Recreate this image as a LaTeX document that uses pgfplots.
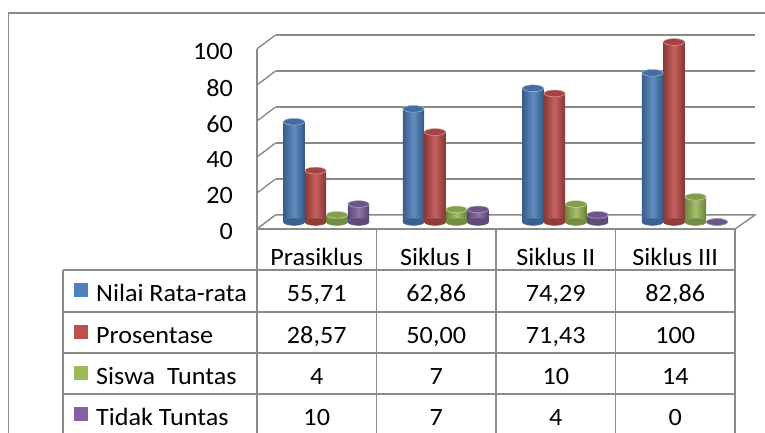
\documentclass[border=0pt]{standalone}
\usepackage{fontspec}
\setmainfont{Carlito}[FakeStretch=1.05]
\usepackage{pgfplots}
\pgfplotsset{compat=1.18}

\definecolor{cblue}{HTML}{4F81BD}
\definecolor{cred}{HTML}{C0504D}
\definecolor{cgreen}{HTML}{9BBB59}
\definecolor{cpurple}{HTML}{8064A2}
\definecolor{gridgray}{HTML}{8A8A8A}

\pgfdeclareplotmark{cyltop}{%
  \pgfpathellipse{\pgfpointorigin}{\pgfqpoint{10.6bp}{0pt}}{\pgfqpoint{0pt}{3.4bp}}%
  \pgfusepathqfillstroke}

% one cylinder: #1 colour, #2 x position, #3 value
\newcommand{\cyl}[3]{%
  \addplot[only marks, mark=cyltop, mark options={fill=#1!75!black, draw=#1!75!black, line width=0.4bp}]
    coordinates {(#2,0)};
  \addplot[ybar, bar width=21.2bp, bar shift=0pt, draw=none,
    left color=#1!72!black, right color=#1!68!black, middle color=#1!90!white]
    coordinates {(#2,#3)};
  \addplot[only marks, mark=cyltop, mark options={fill=#1!85!black, draw=#1!55!white, line width=0.5bp}]
    coordinates {(#2,#3)};
}

\begin{document}
\begin{tikzpicture}[x=1bp, y=1bp]
\useasboundingbox (0,0) rectangle (765,432);
\fontsize{25}{30}\selectfont
% outer frame
\draw[gridgray, line width=1.6bp] (8.5,-10) rectangle (780,419);

% back wall gridlines
\begin{axis}[at={(275.5bp,217bp)}, anchor=south west, scale only axis,
  width=479.5bp, height=180bp, xmin=0, xmax=4, ymin=0, ymax=100,
  axis line style={draw=none}, tick style={draw=none},
  xtick=\empty, ytick={0,20,...,100}, yticklabels={},
  ymajorgrids, major grid style={gridgray, line width=1.4bp}]
\end{axis}

% side wall diagonals and floor
\foreach \v in {0,20,...,100} {
  \draw[gridgray, line width=1.4bp] (257,{203+1.8*\v}) -- (275.5,{217+1.8*\v});
}
\fill[white] (257,203) -- (735,203) -- (755,217) -- (275.5,217) -- cycle;
\draw[gridgray, line width=1.4bp] (257,203) -- (275.5,217) -- (755,217) -- (735,203);

% cylinders (categories at 0.5, 1.5, 2.5, 3.5; series offsets -0.27, -0.09, 0.09, 0.27)
\begin{axis}[at={(266.5bp,210bp)}, anchor=south west, scale only axis,
  width=478bp, height=180bp, xmin=0, xmax=4, ymin=0, ymax=100,
  hide axis, clip=false]
% Prasiklus
\cyl{cblue}{0.23}{55.71}
\cyl{cred}{0.41}{28.57}
\cyl{cgreen}{0.59}{4}
\cyl{cpurple}{0.77}{10}
% Siklus I
\cyl{cblue}{1.23}{62.86}
\cyl{cred}{1.41}{50.00}
\cyl{cgreen}{1.59}{7}
\cyl{cpurple}{1.77}{7}
% Siklus II
\cyl{cblue}{2.23}{74.29}
\cyl{cred}{2.41}{71.43}
\cyl{cgreen}{2.59}{10}
\cyl{cpurple}{2.77}{4}
% Siklus III
\cyl{cblue}{3.23}{82.86}
\cyl{cred}{3.41}{100}
\cyl{cgreen}{3.59}{14}
\cyl{cpurple}{3.77}{0}
\end{axis}

% front axis with tick labels
\begin{axis}[at={(257bp,203bp)}, anchor=south west, scale only axis,
  width=478bp, height=180bp, xmin=0, xmax=4, ymin=0, ymax=100,
  separate axis lines, axis x line=none, axis y line*=left,
  y axis line style={gridgray, line width=1.4bp, -},
  ytick={0,20,...,100}, major tick length=0pt,
  /pgf/number format/assume math mode=true,
  yticklabel style={font=\fontsize{25}{30}\selectfont, anchor=east, inner sep=0pt, xshift=-24bp, yshift=-3bp}]
\end{axis}

% data table
\begin{scope}[gridgray, line width=1.4bp]
  \draw (257,203) -- (735,203);
  \foreach \yy in {162,120,79,38} { \draw (63,\yy) -- (735,\yy); }
  \draw (63,162) -- (63,-10);
  \foreach \xx in {257,376.5,496,615.5,735} { \draw (\xx,203) -- (\xx,-10); }
\end{scope}

\foreach \cx/\lab in {316.75/Prasiklus,436.25/Siklus I,555.75/Siklus II,675.25/Siklus III} {
  \node[anchor=base, inner sep=0pt] at (\cx,167) {\lab};
}

\fill[cblue]   (74,135) rectangle (87.5,149);
\fill[cred]    (74,93)  rectangle (87.5,107);
\fill[cgreen]  (74,52)  rectangle (87.5,66);
\fill[cpurple] (74,11)  rectangle (87.5,25);
\node[anchor=base west, inner sep=0pt] at (96,131) {Nilai Rata-rata};
\node[anchor=base west, inner sep=0pt] at (96,89) {Prosentase};
\node[anchor=base west, inner sep=0pt] at (96,48) {Siswa\ \ Tuntas};
\node[anchor=base west, inner sep=0pt] at (96,7) {Tidak Tuntas};

\node[anchor=base, inner sep=0pt] at (316.75,131) {55,71};
\node[anchor=base, inner sep=0pt] at (436.25,131) {62,86};
\node[anchor=base, inner sep=0pt] at (555.75,131) {74,29};
\node[anchor=base, inner sep=0pt] at (675.25,131) {82,86};
\node[anchor=base, inner sep=0pt] at (316.75,89) {28,57};
\node[anchor=base, inner sep=0pt] at (436.25,89) {50,00};
\node[anchor=base, inner sep=0pt] at (555.75,89) {71,43};
\node[anchor=base, inner sep=0pt] at (675.25,89) {100};
\node[anchor=base, inner sep=0pt] at (316.75,48) {4};
\node[anchor=base, inner sep=0pt] at (436.25,48) {7};
\node[anchor=base, inner sep=0pt] at (555.75,48) {10};
\node[anchor=base, inner sep=0pt] at (675.25,48) {14};
\node[anchor=base, inner sep=0pt] at (316.75,7) {10};
\node[anchor=base, inner sep=0pt] at (436.25,7) {7};
\node[anchor=base, inner sep=0pt] at (555.75,7) {4};
\node[anchor=base, inner sep=0pt] at (675.25,7) {0};
\end{tikzpicture}
\end{document}
